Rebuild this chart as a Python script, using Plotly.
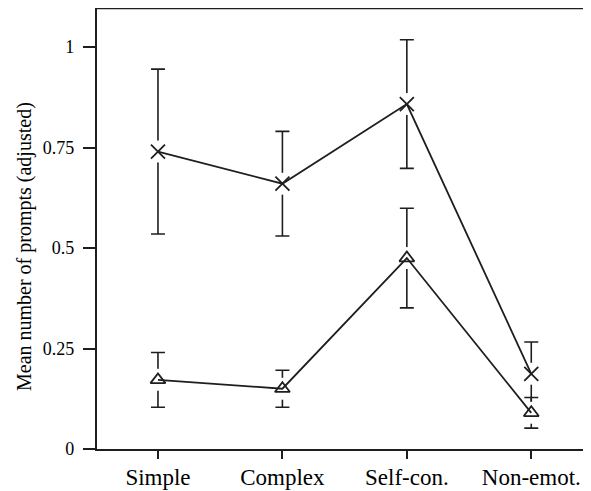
import plotly.graph_objects as go

categories = ["Simple", "Complex", "Self-con.", "Non-emot."]
cross_means = [0.740, 0.660, 0.858, 0.187]
cross_err = [0.205, 0.130, 0.160, 0.079]
tri_means = [0.172, 0.150, 0.475, 0.090]
tri_err = [0.068, 0.046, 0.124, 0.038]
y_ticks = [0, 0.25, 0.5, 0.75, 1]
y_tick_labels = ["0", "0.25", "0.5", "0.75", "1"]
y_title = "Mean number of prompts (adjusted)"

xpos = list(range(len(categories)))
fig = go.Figure()
INK = "#1e1e1e"

for means, err in [(cross_means, cross_err), (tri_means, tri_err)]:
    fig.add_trace(go.Scatter(
        x=xpos, y=means, mode="markers",
        marker=dict(size=1, color="rgba(0,0,0,0)"),
        error_y=dict(type="data", array=err, visible=True, color=INK,
                     thickness=1.6, width=7),
        showlegend=False, hoverinfo="skip"))
for means in [cross_means, tri_means]:
    fig.add_trace(go.Scatter(
        x=xpos, y=means, mode="markers",
        marker=dict(size=22, color="white", line=dict(width=0)),
        showlegend=False, hoverinfo="skip"))

fig.add_trace(go.Scatter(
    x=xpos, y=cross_means, mode="lines+markers",
    line=dict(color=INK, width=1.8),
    marker=dict(symbol="x-thin", size=14, line=dict(color=INK, width=1.8)),
    showlegend=False))
fig.add_trace(go.Scatter(
    x=xpos, y=tri_means, mode="lines+markers",
    line=dict(color=INK, width=1.8),
    marker=dict(symbol="triangle-up-open", size=13, color=INK,
                line=dict(color=INK, width=1.8)),
    showlegend=False))

fig.add_shape(type="line", xref="paper", yref="paper", x0=0, x1=1, y0=1, y1=1,
              line=dict(color=INK, width=2.4))

SERIF = "'Liberation Serif', 'Times New Roman', Times, serif"
fig.add_annotation(text=y_title, xref="paper", yref="paper",
                   x=-0.148, y=0.46, xanchor="center", yanchor="middle",
                   textangle=-90, showarrow=False,
                   font=dict(size=20, family=SERIF, color="black"))

fig.update_layout(
    width=583, height=483,
    margin=dict(l=89, r=0, t=0, b=42, pad=0, autoexpand=False),
    paper_bgcolor="white", plot_bgcolor="white",
    font=dict(family=SERIF, color="black"),
    xaxis=dict(range=[-0.49, 3.48], tickmode="array", tickvals=xpos,
               ticktext=categories, showgrid=False, zeroline=False,
               showline=True, linecolor=INK, linewidth=2.4, automargin=False,
               ticks="outside", ticklen=8, tickwidth=1.6, tickcolor=INK,
               ticklabelstandoff=-2,
               tickfont=dict(size=23, family=SERIF, color="black")),
    yaxis=dict(range=[0, 1.097], tickmode="array", tickvals=y_ticks,
               ticktext=y_tick_labels, showgrid=False, zeroline=False,
               showline=True, linecolor=INK, linewidth=2.4, automargin=False,
               ticks="outside", ticklen=12, tickwidth=1.6, tickcolor=INK,
               ticklabelstandoff=5,
               tickfont=dict(size=18, family=SERIF, color="black")),
)

fig.write_html("out.html")
